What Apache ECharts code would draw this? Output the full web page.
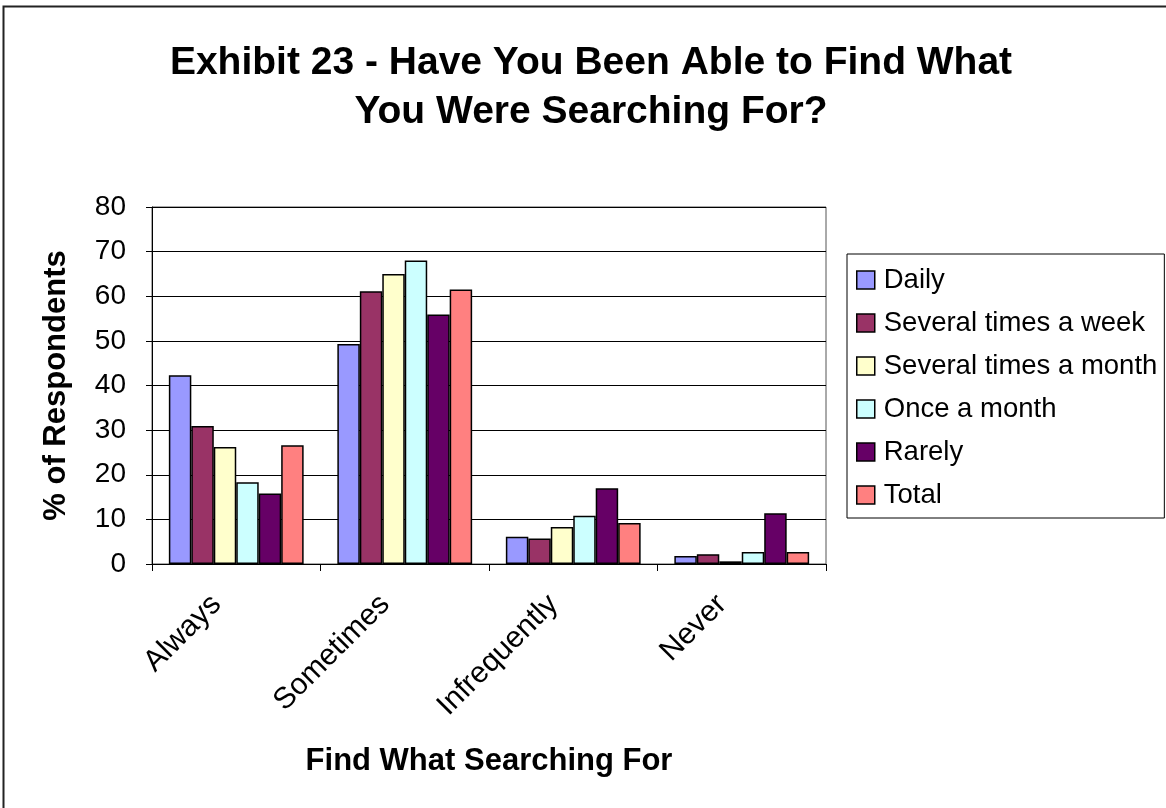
<!DOCTYPE html>
<html>
<head>
<meta charset="utf-8">
<title>Exhibit 23</title>
<script src="https://cdn.jsdelivr.net/npm/echarts@6/dist/echarts.min.js"></script>
<style>
  html, body { margin: 0; padding: 0; background: #fff; }
  #chart { width: 1166px; height: 808px; }
</style>
</head>
<body>
<div id="chart"></div>
<script>
// Response categories along the x axis
const categories = ['Always', 'Sometimes', 'Infrequently', 'Never'];

// Percent of respondents per search-frequency group
const daily          = [42.3, 49.3, 6.1, 1.8];
const severalWeek    = [30.9, 61.1, 5.7, 2.2];
const severalMonth   = [26.2, 65.0, 8.3, 0.6];
const onceMonth      = [18.3, 68.0, 10.8, 2.7];
const rarely         = [15.8, 55.9, 17.0, 11.4];
const total          = [26.6, 61.5, 9.2, 2.7];

const seriesNames = ['Daily', 'Several times a week', 'Several times a month', 'Once a month', 'Rarely', 'Total'];
const seriesData = [daily, severalWeek, severalMonth, onceMonth, rarely, total];
const seriesColors = ['#9999FF', '#993366', '#FFFFCC', '#CCFFFF', '#660066', '#FF8080'];

const FONT = '"Liberation Sans", Arial, sans-serif';

const chart = echarts.init(document.getElementById('chart'), null, { renderer: 'canvas' });

chart.setOption({
  backgroundColor: '#ffffff',
  animation: false,
  textStyle: { fontFamily: FONT, color: '#000' },
  graphic: [{
    // frame around the whole chart area
    type: 'rect',
    shape: { x: 3.5, y: 6.5, width: 1200, height: 850 },
    style: { fill: 'none', stroke: '#222', lineWidth: 2 },
    silent: true,
    z: 0
  }],
  title: {
    text: 'Exhibit 23 - Have You Been Able to Find What\nYou Were Searching For?',
    left: 586,
    top: 34,
    textAlign: 'center',
    textStyle: {
      fontFamily: FONT,
      fontWeight: 'bold',
      fontSize: 39,
      lineHeight: 49,
      color: '#000'
    }
  },
  legend: {
    orient: 'vertical',
    left: 847,
    top: 254,
    padding: [12, 7, 9, 9],
    borderColor: '#000',
    borderWidth: 1,
    itemWidth: 18,
    itemHeight: 18,
    itemGap: 15,
    icon: 'rect',
    itemStyle: { borderColor: '#000', borderWidth: 1.5 },
    textStyle: { fontFamily: FONT, fontSize: 27.5, color: '#000', lineHeight: 27, padding: [0, 0, 0, 4] },
    data: seriesNames
  },
  grid: {
    left: 152,
    right: 340,
    top: 207,
    bottom: 244,
    show: true,
    borderColor: '#555',
    borderWidth: 1,
    containLabel: false
  },
  xAxis: {
    type: 'category',
    data: categories,
    name: 'Find What Searching For',
    nameLocation: 'middle',
    nameGap: 182,
    nameTextStyle: { fontFamily: FONT, fontWeight: 'bold', fontSize: 31, color: '#000' },
    axisLine: { lineStyle: { color: '#000', width: 1 } },
    axisTick: { show: true, length: 7, alignWithLabel: false, lineStyle: { color: '#000' } },
    axisLabel: {
      rotate: 45,
      margin: 16,
      padding: [0, 28, 0, 0],
      fontFamily: FONT,
      fontSize: 30,
      color: '#000',
      interval: 0
    }
  },
  yAxis: {
    type: 'value',
    min: 0,
    max: 80,
    interval: 10,
    name: '% of Respondents',
    nameLocation: 'middle',
    nameGap: 80,
    nameRotate: 90,
    nameTextStyle: { fontFamily: FONT, fontWeight: 'bold', fontSize: 31, color: '#000' },
    axisLine: { show: true, lineStyle: { color: '#000', width: 1 } },
    axisTick: { show: true, inside: false, length: 6, lineStyle: { color: '#000' } },
    axisLabel: { margin: 26, fontFamily: FONT, fontSize: 28, color: '#000' },
    splitLine: { show: true, lineStyle: { color: '#000', width: 1 } }
  },
  series: seriesNames.map((name, i) => ({
    name: name,
    type: 'bar',
    data: seriesData[i],
    barGap: '0%',
    barCategoryGap: '20%',
    itemStyle: { color: seriesColors[i], borderColor: '#000', borderWidth: 1.5 }
  }))
});
</script>
</body>
</html>
